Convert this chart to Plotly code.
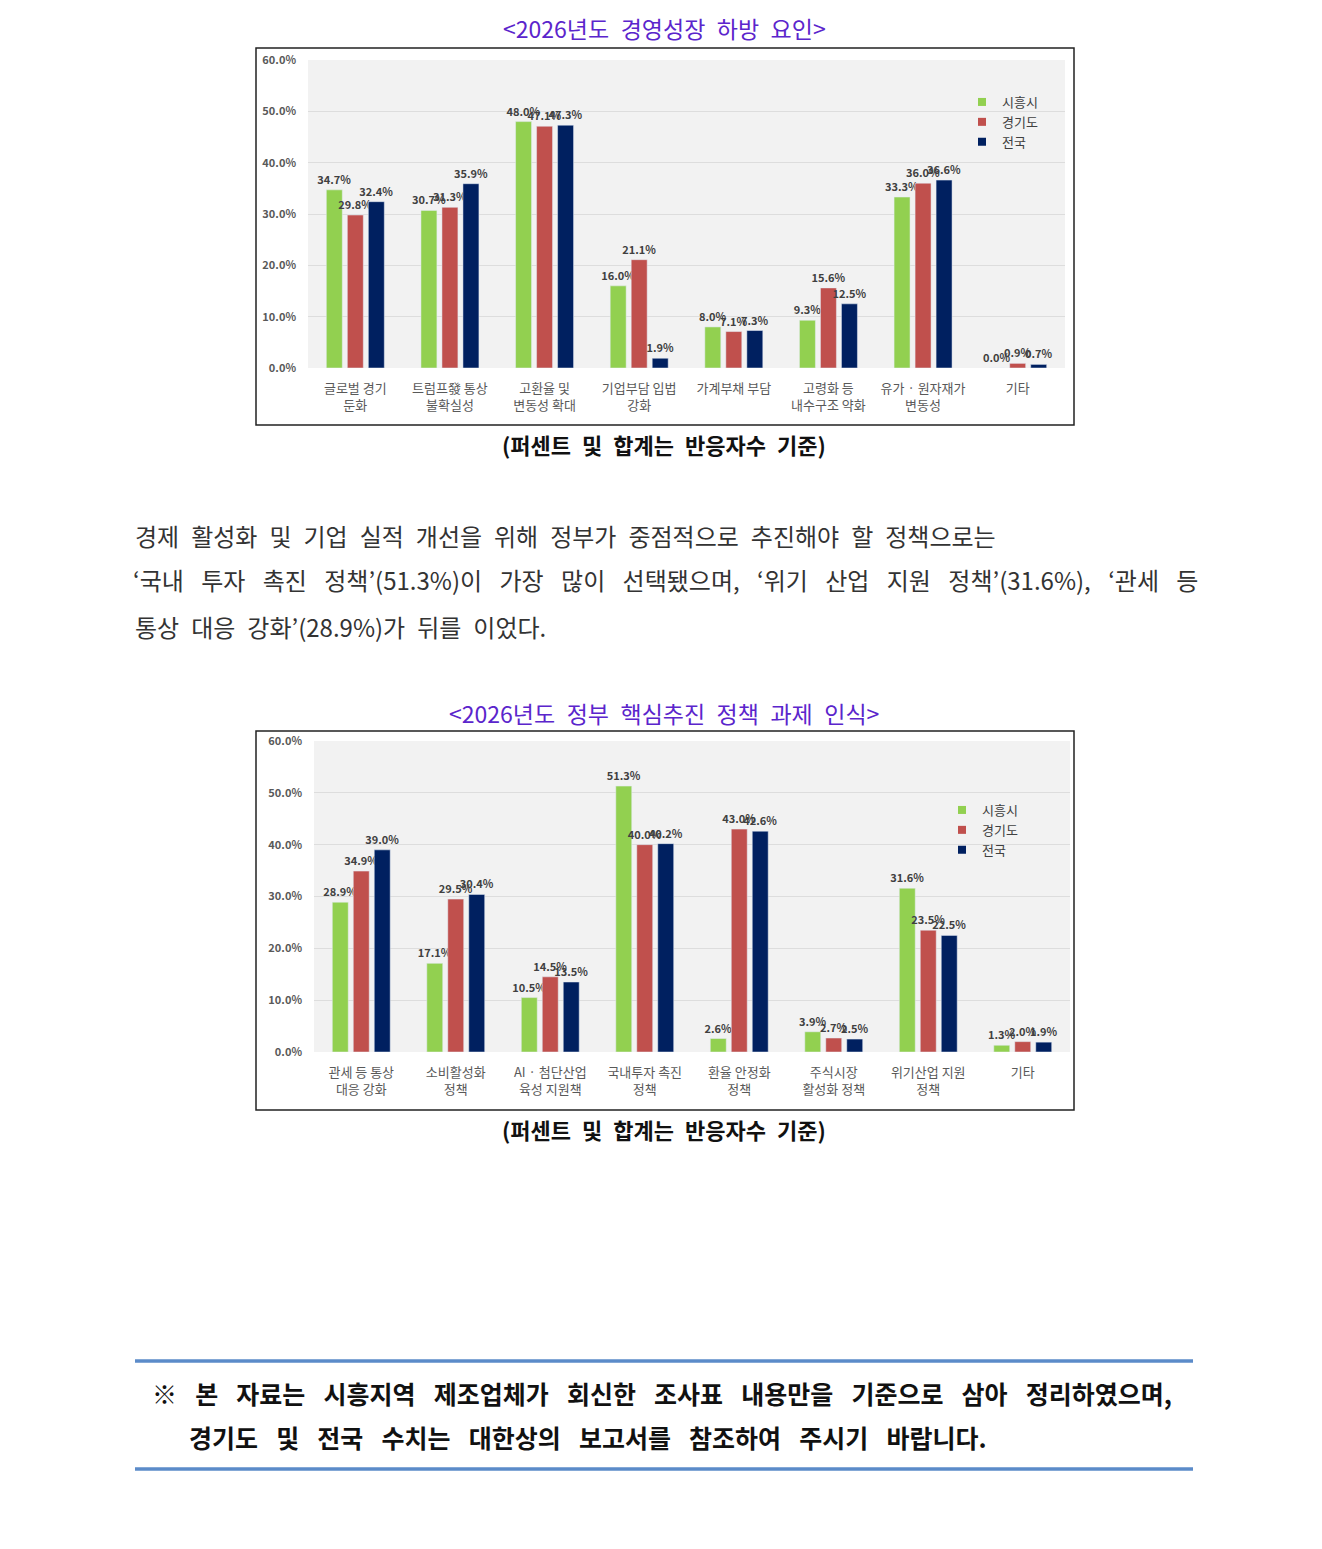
import plotly.graph_objects as go

# ---------------- data ----------------
series_names = ["시흥시", "경기도", "전국"]
series_colors = ["#92D050", "#C0504D", "#002060"]

cats1 = ["글로벌 경기<br>둔화", "트럼프發 통상<br>불확실성", "고환율 및<br>변동성 확대", "기업부담 입법<br>강화",
         "가계부채 부담", "고령화 등<br>내수구조 약화", "유가 · 원자재가<br>변동성", "기타"]
siheung1 = [34.7, 30.7, 48.0, 16.0, 8.0, 9.3, 33.3, 0.0]
gyeonggi1 = [29.8, 31.3, 47.1, 21.1, 7.1, 15.6, 36.0, 0.9]
national1 = [32.4, 35.9, 47.3, 1.9, 7.3, 12.5, 36.6, 0.7]

cats2 = ["관세 등 통상<br>대응 강화", "소비활성화<br>정책", "AI · 첨단산업<br>육성 지원책", "국내투자 촉진<br>정책",
         "환율 안정화<br>정책", "주식시장<br>활성화 정책", "위기산업 지원<br>정책", "기타"]
siheung2 = [28.9, 17.1, 10.5, 51.3, 2.6, 3.9, 31.6, 1.3]
gyeonggi2 = [34.9, 29.5, 14.5, 40.0, 43.0, 2.7, 23.5, 2.0]
national2 = [39.0, 30.4, 13.5, 40.2, 42.6, 2.5, 22.5, 1.9]

y_ticks = [0, 10, 20, 30, 40, 50, 60]
y_ticktext = ["0.0%", "10.0%", "20.0%", "30.0%", "40.0%", "50.0%", "60.0%"]

title1 = "&lt;2026년도 경영성장 하방 요인&gt;"
title2 = "&lt;2026년도 정부 핵심추진 정책 과제 인식&gt;"
subtitle = "(퍼센트 및 합계는 반응자수 기준)"

body_line1 = "경제 활성화 및 기업 실적 개선을 위해 정부가 중점적으로 추진해야 할 정책으로는"
body_line2 = "‘국내 투자 촉진 정책’(51.3%)이 가장 많이 선택됐으며, ‘위기 산업 지원 정책’(31.6%), ‘관세 등"
body_line3 = "통상 대응 강화’(28.9%)가 뒤를 이었다."

note_line1 = "※ 본 자료는 시흥지역 제조업체가 회신한 조사표 내용만을 기준으로 삼아 정리하였으며,"
note_line2 = "경기도 및 전국 수치는 대한상의 보고서를 참조하여 주시기 바랍니다."

# ---------------- layout helpers ----------------
W, H = 1322, 1549
OFF = 8  # page body margin
FONT = "Noto Sans CJK KR"


def px(x):
    return (x - OFF) / W


def py(y):
    return 1 - (y - OFF) / H


fig = go.Figure()

groups = [
    (cats1, [siheung1, gyeonggi1, national1], "x", "y", "legend"),
    (cats2, [siheung2, gyeonggi2, national2], "x2", "y2", "legend2"),
]
for cats, vals, xa, ya, leg in groups:
    for name, color, v in zip(series_names, series_colors, vals):
        fig.add_trace(go.Bar(
            x=cats, y=v, name=name, marker_color=color, xaxis=xa, yaxis=ya,
            showlegend=False, text=[f"{val:.1f}%" for val in v],
            textposition="outside", constraintext="none", cliponaxis=False,
            textfont=dict(family=FONT, size=11, color="#404040", weight="bold"),
            textangle=0,
        ))
    for name, color in zip(series_names, series_colors):
        fig.add_trace(go.Scatter(
            x=[None], y=[None], mode="markers", name=name, xaxis=xa, yaxis=ya,
            marker=dict(symbol="square", size=8, color=color), legend=leg, showlegend=True,
        ))

axis_common_x = dict(showgrid=False, showline=False, ticks="", zeroline=False,
                     tickfont=dict(family=FONT, size=13, color="#595959"),
                     ticklabelstandoff=11, fixedrange=True)
axis_common_y = dict(range=[0, 60], tickvals=y_ticks, ticktext=y_ticktext,
                     showgrid=True, gridcolor="#DDDDDD", gridwidth=1, zeroline=False,
                     showline=False, ticks="", ticklabelstandoff=11,
                     tickfont=dict(family=FONT, size=11, color="#595959", weight="bold"),
                     fixedrange=True)

fig.update_layout(
    width=W, height=H, margin=dict(l=0, r=0, t=0, b=0, autoexpand=False),
    paper_bgcolor="white", plot_bgcolor="#F2F2F2",
    barmode="group", bargap=0.334, bargroupgap=0.24,
    font=dict(family=FONT),
    xaxis=dict(domain=[px(308), px(1065)], anchor="y", **axis_common_x),
    yaxis=dict(domain=[py(368), py(60)], anchor="x", **axis_common_y),
    xaxis2=dict(domain=[px(314), px(1070)], anchor="y2", **axis_common_x),
    yaxis2=dict(domain=[py(1052), py(741)], anchor="x2", **axis_common_y),
    legend=dict(x=px(962), y=py(87), xanchor="left", yanchor="top",
                bgcolor="rgba(0,0,0,0)", font=dict(family=FONT, size=13, color="#404040"),
                itemwidth=30, tracegroupgap=0),
    legend2=dict(x=px(942), y=py(795), xanchor="left", yanchor="top",
                 bgcolor="rgba(0,0,0,0)", font=dict(family=FONT, size=13, color="#404040"),
                 itemwidth=30, tracegroupgap=0),
)

shapes = [
    dict(type="rect", xref="paper", yref="paper", x0=px(256), x1=px(1074), y0=py(425), y1=py(48),
         line=dict(color="#222222", width=1.5)),
    dict(type="rect", xref="paper", yref="paper", x0=px(256), x1=px(1074), y0=py(1110), y1=py(731),
         line=dict(color="#222222", width=1.5)),
    dict(type="line", xref="paper", yref="paper", x0=px(135), x1=px(1193), y0=py(1361), y1=py(1361),
         line=dict(color="#5B8BC9", width=3.5)),
    dict(type="line", xref="paper", yref="paper", x0=px(135), x1=px(1193), y0=py(1469), y1=py(1469),
         line=dict(color="#5B8BC9", width=3.5)),
]
fig.update_layout(shapes=shapes)

ann = []


def add_text(text, x, y, size, color="#222222", weight="normal", anchor="left"):
    ann.append(dict(text=text, x=px(x), y=py(y), xref="paper", yref="paper",
                    xanchor=anchor, yanchor="middle", showarrow=False,
                    font=dict(family=FONT, size=size, color=color, weight=weight)))


en = "\u2002"
add_text(title1.replace(" ", en), 664, 28, 23, color="#5B25CC", anchor="center")
add_text(subtitle.replace(" ", en), 664, 444, 22, color="#111111", weight="bold", anchor="center")
add_text(title2.replace(" ", en), 664, 713, 23, color="#5B25CC", anchor="center")
add_text(subtitle.replace(" ", en), 664, 1129, 22, color="#111111", weight="bold", anchor="center")

add_text(body_line1.replace(" ", en), 133, 535, 24, color="#333333")
add_text(body_line2.replace(" ", " " + en), 131, 580, 24, color="#333333")
add_text(body_line3.replace(" ", en), 133, 626, 24, color="#333333")

wide = " " + en
add_text(note_line1.replace(" ", wide), 150, 1393, 25, color="#111111", weight="bold")
add_text(note_line2.replace(" ", wide), 187, 1437, 25, color="#111111", weight="bold")

fig.update_layout(annotations=ann)

fig.write_html("out.html")
